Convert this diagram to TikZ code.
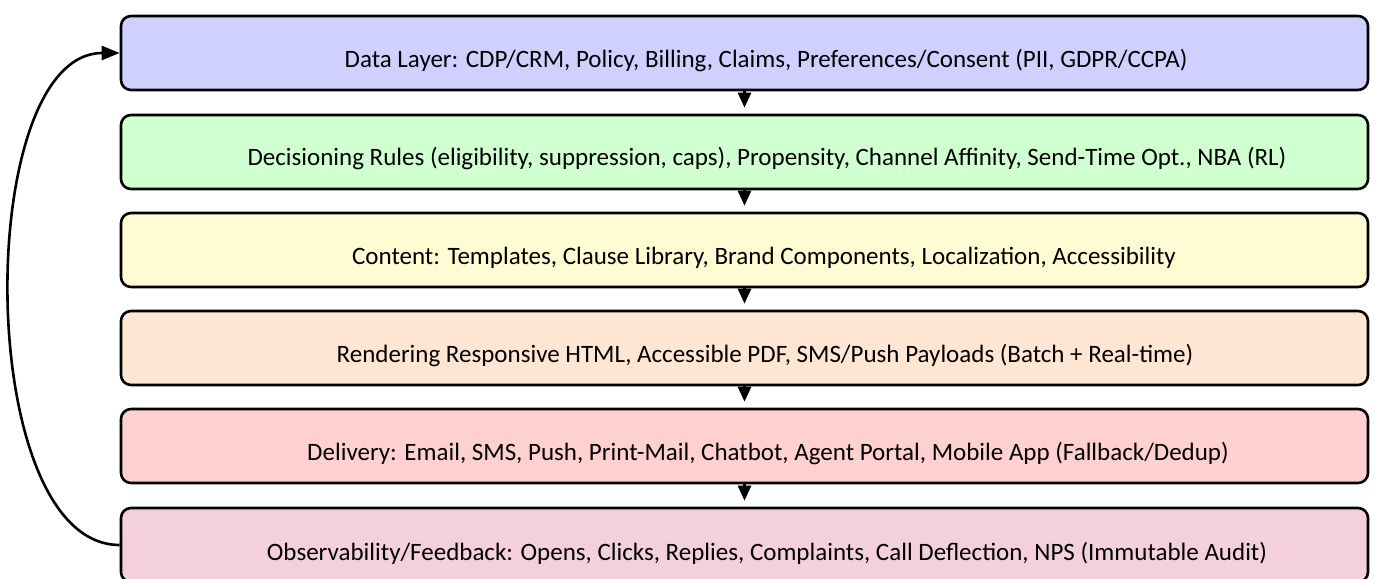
\documentclass[tikz,border=0pt]{standalone}
\usepackage{fontspec}
\setmainfont{Carlito}
\usetikzlibrary{arrows.meta}

\definecolor{layerblue}{HTML}{D0D0FF}
\definecolor{layergreen}{HTML}{D0FFD0}
\definecolor{layeryellow}{HTML}{FFFCD4}
\definecolor{layerpeach}{HTML}{FFE6D2}
\definecolor{layerred}{HTML}{FFD0D0}
\definecolor{layerpink}{HTML}{F4D0DC}

\begin{document}
\begin{tikzpicture}[x=1bp,y=-1bp,
  layerbox/.style={draw=black, line width=2.6bp, rounded corners=10bp,
    minimum width=1247bp, minimum height=74bp, inner sep=0pt},
  layertext/.style={font=\fontsize{25bp}{30bp}\selectfont, anchor=center, inner sep=0pt},
  flow/.style={line width=2.6bp, -{Triangle[length=15bp,width=13bp]}, shorten >=6bp},
  loopback/.style={line width=2.6bp, -{Triangle[length=18bp,width=14bp]}}]
\useasboundingbox (0,0) rectangle (1375,579);

% stacked layers
\node[layerbox, fill=layerblue]   (data)    at (744.5,53)  {};
\node[layerbox, fill=layergreen]  (decide)  at (744.5,152) {};
\node[layerbox, fill=layeryellow] (content) at (744.5,250) {};
\node[layerbox, fill=layerpeach]  (render)  at (744.5,348) {};
\node[layerbox, fill=layerred]    (deliver) at (744.5,446) {};
\node[layerbox, fill=layerpink]   (observe) at (744.5,545) {};

% layer captions
\node[layertext] (tdata)    at (766,61)  {Data Layer: CDP/CRM, Policy, Billing, Claims, Preferences/Consent (PII, GDPR/CCPA)};
\node[layertext] (tdecide)  at (767,159) {Decisioning Rules (eligibility, suppression, caps), Propensity, Channel Affinity, Send-Time Opt., NBA (RL)};
\node[layertext] (tcontent) at (764,258) {Content: Templates, Clause Library, Brand Components, Localization, Accessibility};
\node[layertext] (trender)  at (765,356) {Rendering Responsive HTML, Accessible PDF, SMS/Push Payloads (Batch + Real-time)};
\node[layertext] (tdeliver) at (768,454) {Delivery: Email, SMS, Push, Print-Mail, Chatbot, Agent Portal, Mobile App (Fallback/Dedup)};
\node[layertext] (tobserve) at (767,553) {Observability/Feedback: Opens, Clicks, Replies, Complaints, Call Deflection, NPS (Immutable Audit)};

% downward flow between layers
\draw[flow] (data.south)    -- (decide.north);
\draw[flow] (decide.south)  -- (content.north);
\draw[flow] (content.south) -- (render.north);
\draw[flow] (render.south)  -- (deliver.north);
\draw[flow] (deliver.south) -- (observe.north);

% feedback loop back to the data layer
\draw[loopback] (observe.west) .. controls (-27,545) and (-27,53) .. (data.west);
\end{tikzpicture}
\end{document}
